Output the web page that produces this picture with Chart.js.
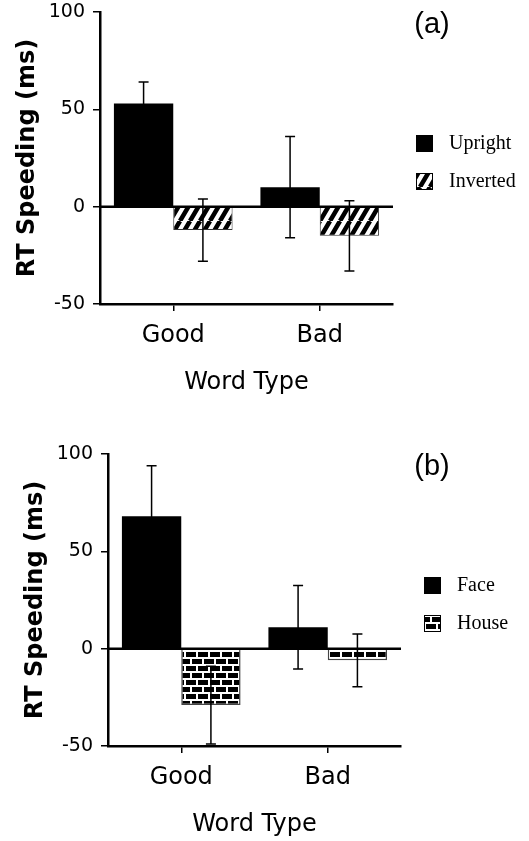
<!DOCTYPE html>
<html>
<head>
<meta charset="utf-8">
<script src="https://cdn.jsdelivr.net/npm/chart.js@4.4.1/dist/chart.umd.min.js"></script>
<style>
  body { margin: 0; background: #fff; }
  canvas { display: block; }
</style>
</head>
<body>
<canvas id="panelA" width="529" height="420"></canvas>
<canvas id="panelB" width="529" height="421"></canvas>
<script>
// data
const wordTypes = ['Good', 'Bad'];
const yTicks = [-50, 0, 50, 100];

// panel (a)
const uprightMeans = [53, 10];
const uprightErr = [11, 26];
const invertedMeans = [-12, -15];
const invertedErr = [16, 18];

// panel (b)
const faceMeans = [68, 11];
const faceErr = [26, 21.5];
const houseMeans = [-29, -6];
const houseErr = [20, 13.5];

const SANS = '"DejaVu Sans", sans-serif';

//diagonal stripes for the inverted bars
function hatchPattern() {
    const c = document.createElement('canvas');
    c.width = 10; c.height = 17;
    const g = c.getContext('2d');
    g.fillStyle = '#fff';
    g.fillRect(0, 0, 10, 17);
    g.strokeStyle = '#000';
    g.lineWidth = 4.5;
    g.beginPath();
    for (let k = -1; k <= 1; k++) {
        g.moveTo(k * 10, 17);
        g.lineTo(k * 10 + 10, 0);
    }
    g.stroke();
    return g.createPattern(c, 'repeat');
}

//brick wall for the house bars
function brickPattern() {
    const c = document.createElement('canvas');
    c.width = 12; c.height = 14;
    const g = c.getContext('2d');
    g.fillStyle = '#fff';
    g.fillRect(0, 0, 12, 14);
    g.fillStyle = '#000';
    g.fillRect(0, 1, 10, 5);
    g.fillRect(6, 8, 6, 5);
    g.fillRect(0, 8, 4, 5);
    return g.createPattern(c, 'repeat');
}

//error bars + thick zero line, drawn over the bars
const errorBars = {
    id: 'errorBars',
    afterDatasetsDraw(chart) {
        const { ctx, chartArea } = chart;
        const y = chart.scales.y;
        ctx.save();
        ctx.strokeStyle = '#000';
        ctx.lineWidth = 1.5;
        chart.data.datasets.forEach((ds, i) => {
            chart.getDatasetMeta(i).data.forEach((bar, j) => {
                const top = y.getPixelForValue(ds.data[j] + ds.errors[j]);
                const bot = y.getPixelForValue(ds.data[j] - ds.errors[j]);
                ctx.beginPath();
                ctx.moveTo(bar.x, top); ctx.lineTo(bar.x, bot);
                ctx.moveTo(bar.x - 5, top); ctx.lineTo(bar.x + 5, top);
                ctx.moveTo(bar.x - 5, bot); ctx.lineTo(bar.x + 5, bot);
                ctx.stroke();
            });
        });
        const zero = y.getPixelForValue(0);
        ctx.lineWidth = 2.5;
        ctx.beginPath();
        ctx.moveTo(chartArea.left, zero);
        ctx.lineTo(chartArea.right, zero);
        ctx.stroke();
        ctx.restore();
    }
};

//legend boxes to the right of the plot + panel letter
const sideLegend = {
    id: 'sideLegend',
    afterDraw(chart, args, opts) {
        const { ctx, chartArea } = chart;
        ctx.save();
        chart.data.datasets.forEach((ds, i) => {
            const bx = chartArea.right + 23;
            const cy = chartArea.top + 131.5 + i * 38;
            ctx.fillStyle = ds.backgroundColor;
            ctx.fillRect(bx, cy - 8.5, 17, 17);
            ctx.strokeStyle = '#000';
            ctx.lineWidth = 1;
            ctx.strokeRect(bx + 0.5, cy - 8, 16, 16);
            ctx.fillStyle = '#000';
            ctx.font = '20px "Liberation Serif", serif';
            ctx.textAlign = 'left';
            ctx.textBaseline = 'middle';
            ctx.fillText(ds.label, bx + 33, cy);
        });
        ctx.font = '29px "Liberation Sans", sans-serif';
        ctx.textAlign = 'center';
        ctx.textBaseline = 'middle';
        ctx.fillText(opts.tag, opts.tagX, chartArea.top + 12.5);
        ctx.restore();
    }
};

function makePanel(id, sets, tag, tagX, dx, dy) {
    const canvas = document.getElementById(id);
    const H = canvas.height;
    const plotBottom = 304 + dy;
    const xHeight = H - plotBottom;
    return new Chart(canvas, {
        type: 'bar',
        data: { labels: wordTypes, datasets: sets },
        options: {
            responsive: false,
            animation: false,
            layout: { padding: { left: dx, top: 12 + dy, right: 136 - dx, bottom: 0 } },
            datasets: { bar: { barPercentage: 1, categoryPercentage: 0.81 } },
            plugins: {
                legend: { display: false },
                tooltip: { enabled: false },
                sideLegend: { tag, tagX }
            },
            scales: {
                x: {
                    grid: { offset: false, drawOnChartArea: false, color: '#000', lineWidth: 1.5, tickLength: 7 },
                    border: { color: '#000', width: 2.5 },
                    ticks: { color: '#000', font: { family: SANS, size: 24 }, padding: 10 },
                    title: {
                        display: true, text: 'Word Type', color: '#000',
                        font: { family: SANS, size: 24 },
                        padding: { top: 0, bottom: xHeight - 79 - 14.4 }
                    },
                    afterFit: s => { s.height = xHeight; }
                },
                y: {
                    min: -50, max: 100,
                    afterBuildTicks: s => { s.ticks = yTicks.map(v => ({ value: v })); },
                    grid: { drawOnChartArea: false, color: '#000', lineWidth: 1.5, tickLength: 7 },
                    border: { color: '#000', width: 2.5 },
                    ticks: { color: '#000', font: { family: SANS, size: 19 }, padding: 8 },
                    title: {
                        display: true, text: 'RT Speeding (ms)', color: '#000',
                        font: { family: SANS, size: 24, weight: 'bold' },
                        padding: { top: 13, bottom: 0 }
                    },
                    afterFit: s => {
                        s.width = 100;
                        s.paddingTop = 0;
                        s.paddingBottom = 0;
                    }
                }
            }
        },
        plugins: [errorBars, sideLegend]
    });
}

makePanel('panelA', [
    { label: 'Upright', data: uprightMeans, errors: uprightErr, backgroundColor: '#000', borderWidth: 0 },
    { label: 'Inverted', data: invertedMeans, errors: invertedErr, backgroundColor: hatchPattern(), borderColor: '#333', borderWidth: 1 }
], '(a)', 432, 0, 0);

makePanel('panelB', [
    { label: 'Face', data: faceMeans, errors: faceErr, backgroundColor: '#000', borderWidth: 0 },
    { label: 'House', data: houseMeans, errors: houseErr, backgroundColor: brickPattern(), borderColor: '#444', borderWidth: 1.5 }
], '(b)', 432, 8, 22);
</script>
</body>
</html>
